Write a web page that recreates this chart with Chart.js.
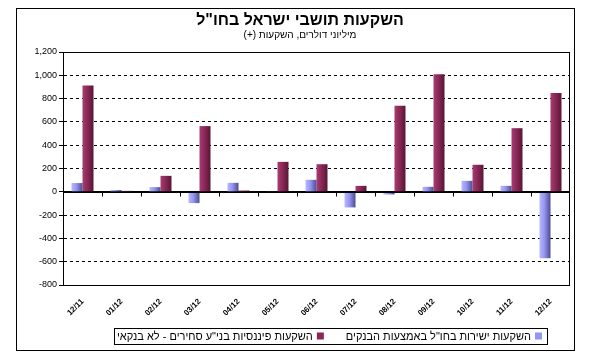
<!DOCTYPE html>
<html>
<head>
<meta charset="utf-8">
<script src="https://cdn.jsdelivr.net/npm/chart.js@4/dist/chart.umd.min.js"></script>
<style>
  html, body { margin: 0; padding: 0; background: #fff; }
  #wrap { width: 595px; height: 363px; }
  canvas { direction: ltr; }
</style>
</head>
<body>
<div id="wrap"><canvas id="c" width="595" height="363"></canvas></div>
<script>
const categories = ['12/11','01/12','02/12','03/12','04/12','05/12','06/12','07/12','08/12','09/12','10/12','11/12','12/12'];
const directViaBanks = [75, 15, 40, -97, 77, 5, 103, -134, -23, 43, 94, 51, -570];
const financialNonBank = [912, 8, 137, 564, 11, 257, 237, 51, 738, 1010, 232, 546, 847];
const seriesNames = ['השקעות ישירות בחו"ל באמצעות הבנקים', 'השקעות פיננסיות בני"ע סחירים - לא בנקאי'];
const yTicks = { min: -800, max: 1200, step: 200 };
const titleText = 'השקעות תושבי ישראל בחו"ל';
const subtitleText = 'מיליוני דולרים, השקעות (+)\u200F';

const FONT = 'Liberation Sans, Arial, sans-serif';
const CAT_PCT = 0.564;
const palettes = [
  ['#b8b8ff', '#9494f2', '#4c4c8e'],
  ['#a83c70', '#8a2858', '#561634']
];

function barFill(c) {
  const chart = c.chart;
  const xs = chart.scales && chart.scales.x;
  const pal = palettes[c.datasetIndex];
  if (!xs || !chart.chartArea || c.dataIndex === undefined) return pal[1];
  const catW = xs.width / categories.length;
  const barW = catW * CAT_PCT / 2;
  const center = xs.getPixelForValue(c.dataIndex);
  const left = center - catW * CAT_PCT / 2 + c.datasetIndex * barW;
  const g = chart.ctx.createLinearGradient(left, 0, left + barW, 0);
  g.addColorStop(0, pal[0]);
  g.addColorStop(0.45, pal[1]);
  g.addColorStop(1, pal[2]);
  return g;
}

const framePlugin = {
  id: 'frame',
  beforeDraw(chart) {
    const ctx = chart.ctx;
    ctx.direction = 'ltr';
    ctx.save();
    ctx.fillStyle = '#fff';
    ctx.fillRect(0, 0, chart.width, chart.height);
    ctx.strokeStyle = '#000';
    ctx.lineWidth = 1;
    ctx.strokeRect(16.5, 8.5, 558, 342);
    ctx.restore();
  },
  afterDatasetsDraw(chart) {
    const ctx = chart.ctx;
    const a = chart.chartArea;
    const xs = chart.scales.x, ys = chart.scales.y;
    ctx.save();
    ctx.strokeStyle = '#000';
    ctx.lineWidth = 1;
    ctx.strokeRect(Math.round(a.left) + 0.5, Math.round(a.top) + 0.5, Math.round(a.right - a.left) - 1, Math.round(a.bottom - a.top));
    const y0 = Math.round(ys.getPixelForValue(0)) + 0.5;
    ctx.beginPath();
    ctx.moveTo(a.left, y0);
    ctx.lineTo(a.right, y0);
    const catW = xs.width / categories.length;
    for (let i = 1; i < categories.length; i++) {
      const x = Math.round(xs.getPixelForValue(i) - catW / 2) + 0.5;
      ctx.moveTo(x, y0);
      ctx.lineTo(x, y0 + 4);
    }
    ctx.stroke();
    ctx.restore();
  },
  afterDraw(chart) {
    // legend, items placed right-to-left, drawn as real text
    const ctx = chart.ctx;
    ctx.save();
    ctx.font = '11px ' + FONT;
    ctx.textAlign = 'right';
    ctx.textBaseline = 'middle';
    const sq = 7, gapSq = 4, gapItems = 22, padL = 3, padR = 5;
    const widths = seriesNames.map(t => ctx.measureText(t).width);
    const inner = widths.reduce((s, w) => s + w + sq + gapSq, 0) + gapItems * (seriesNames.length - 1);
    const boxW = Math.round(inner + padL + padR);
    const boxL = Math.round(330.5 - boxW / 2);
    const boxT = 328, boxH = 16, cy = 336;
    ctx.strokeStyle = '#000';
    ctx.lineWidth = 1;
    ctx.strokeRect(boxL + 0.5, boxT + 0.5, boxW, boxH);
    let x = boxL + boxW - padR;
    seriesNames.forEach((t, i) => {
      ctx.fillStyle = palettes[i][1];
      ctx.fillRect(x - sq, cy - 3.5, sq, sq);
      x -= sq + gapSq;
      ctx.fillStyle = '#000';
      ctx.fillText(t, x, cy + 0.5);
      x -= widths[i] + gapItems;
    });
    ctx.restore();
  }
};

new Chart(document.getElementById('c'), {
  type: 'bar',
  data: {
    labels: categories,
    datasets: [
      { label: seriesNames[0], data: directViaBanks, backgroundColor: barFill, borderWidth: 0,
        categoryPercentage: CAT_PCT, barPercentage: 1 },
      { label: seriesNames[1], data: financialNonBank, backgroundColor: barFill, borderWidth: 0,
        categoryPercentage: CAT_PCT, barPercentage: 1 }
    ]
  },
  options: {
    responsive: false,
    animation: false,
    devicePixelRatio: 1,
    layout: { padding: { left: 30, right: 25, top: 8, bottom: 37.5 } },
    plugins: {
      tooltip: { enabled: false },
      legend: { display: false },
      title: {
        display: true, text: titleText, color: '#000',
        font: { family: FONT, size: 16, weight: 'bold', lineHeight: 1 },
        padding: { top: 5, bottom: 0.5 }
      },
      subtitle: {
        display: true, text: subtitleText, color: '#000',
        font: { family: FONT, size: 10, lineHeight: 1.2 },
        padding: { top: 0, bottom: 10.5 }
      }
    },
    scales: {
      x: {
        grid: { display: false },
        border: { display: false },
        ticks: {
          color: '#000', autoSkip: false, minRotation: 45, maxRotation: 45, padding: 4,
          font: { family: FONT, size: 8, weight: 'bold' }
        },
        afterFit(s) { s.height = 40.5; }
      },
      y: {
        min: yTicks.min, max: yTicks.max,
        grid: { color: '#000', lineWidth: 1, tickLength: 4, tickColor: '#000', tickBorderDash: [] },
        border: { display: true, color: '#000', width: 1,
          dash: (c) => (c.type === 'tick' && c.tick && c.tick.value !== 0) ? [3, 3] : [] },
        ticks: {
          stepSize: yTicks.step, color: '#000', padding: 2,
          font: { family: FONT, size: 9 },
          callback: (v) => v.toLocaleString('en-US')
        },
        afterFit(s) { s.width = 33; }
      }
    }
  },
  plugins: [framePlugin]
});
</script>
</body>
</html>
